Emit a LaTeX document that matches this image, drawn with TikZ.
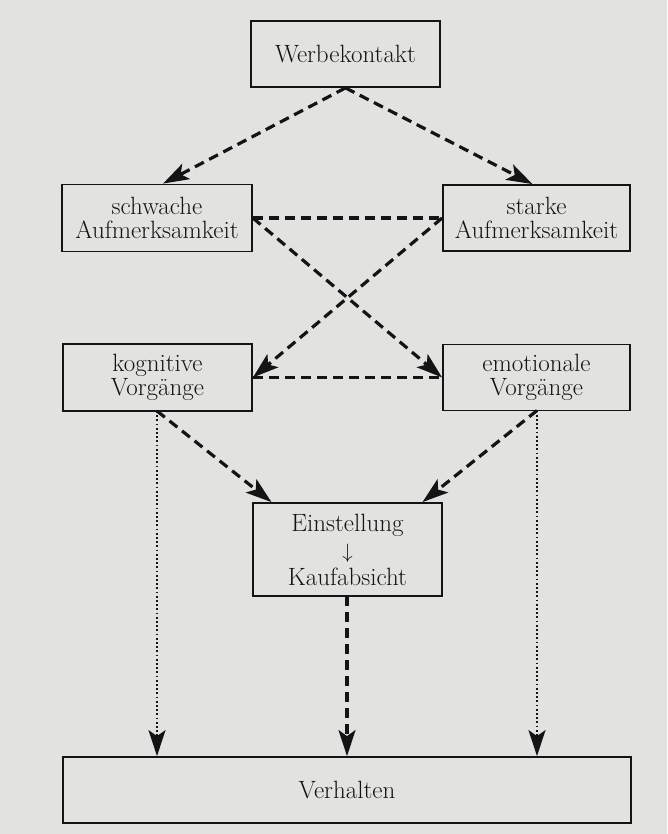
\documentclass[tikz,border=0pt]{standalone}
\usetikzlibrary{arrows.meta}
\definecolor{paper}{RGB}{226,226,224}
\definecolor{ink}{RGB}{20,20,20}
\begin{document}
\begin{tikzpicture}[x=1pt,y=-1pt,
  box/.style={draw=ink,line width=1.8pt,rectangle,inner sep=0pt,align=center,
    font=\fontsize{25}{24}\selectfont,text=ink},
  tip/.style={-{Stealth[length=26pt,width=17pt,inset=6pt]}},
  dashconn/.style={draw=ink,line width=3.2pt,dash pattern=on 10pt off 6pt},
  dotconn/.style={draw=ink,line width=2.2pt,dash pattern=on 1.8pt off 2.4pt}]
\fill[paper] (0,0) rectangle (667,834);
\useasboundingbox (0,0) rectangle (667,834);

\node[box,minimum width=189pt,minimum height=66pt] (wk) at (345.5,54) {Werbekontakt};
\node[box,minimum width=190pt,minimum height=67pt] (sa) at (157,218) {schwache\\Aufmerksamkeit};
\node[box,minimum width=187pt,minimum height=66pt] (st) at (536.5,218) {starke\\Aufmerksamkeit};
\node[box,minimum width=189pt,minimum height=67pt] (kv) at (157.5,377.5) {kognitive\\Vorgänge};
\node[box,minimum width=187pt,minimum height=66pt] (ev) at (536.5,377.5) {emotionale\\Vorgänge};
\node[box,minimum width=189pt,minimum height=93pt] (ek) at (347.5,549.5) {Einstellung\\[3pt]{\fontsize{22}{24}\selectfont$\downarrow$}\\[3pt]Kaufabsicht};
\node[box,minimum width=568pt,minimum height=66pt] (vh) at (347,790) {Verhalten};

\coordinate (kvs) at (157,411);
\coordinate (evs) at (537,410.5);
\coordinate (eks) at (347,596);

% top fan
\draw[dashconn,tip] (wk.south) -- ([xshift=6pt]sa.north);
\draw[dashconn,tip] (wk.south) -- ([xshift=-4pt]st.north);
% horizontal links
\draw[dashconn] (sa.east) -- (st.west);
\draw[dashconn] (kv.east) -- (ev.west);
% crossing arrows
\draw[dashconn,tip] (sa.east) -- (ev.west);
\draw[dashconn,tip] (st.west) -- (kv.east);
% to Einstellung
\draw[dashconn,tip] (kvs) -- ([xshift=-76pt]ek.north);
\draw[dashconn,tip] (evs) -- ([xshift=75pt]ek.north);
% to Verhalten
\draw[dotconn,tip] (kvs) -- (kvs |- vh.north);
\draw[dotconn,tip] (evs) -- (evs |- vh.north);
\draw[dashconn,tip] (eks) -- (eks |- vh.north);
\end{tikzpicture}
\end{document}
